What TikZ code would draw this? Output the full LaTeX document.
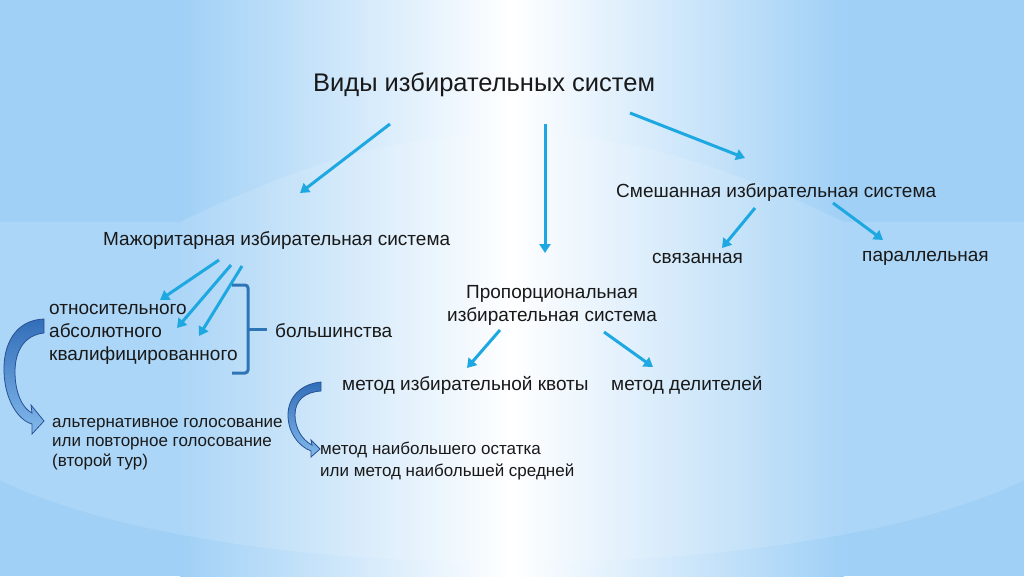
\documentclass[tikz,border=0pt]{standalone}
\usepackage{fontspec}
\setmainfont{Liberation Sans}
\usetikzlibrary{arrows.meta}
\definecolor{bgedge}{RGB}{160,208,246}
\definecolor{arr}{RGB}{30,168,225}
\definecolor{brc}{RGB}{46,117,182}
\definecolor{cvline}{RGB}{40,80,150}
\definecolor{cvtop}{RGB}{50,110,185}
\definecolor{cvbot}{RGB}{130,185,235}
\definecolor{txt}{RGB}{25,25,25}
\begin{document}
\begin{tikzpicture}[x=1pt,y=-1pt,
  lbl/.style={font=\fontsize{19}{22.8}\selectfont, text=txt, inner sep=0pt, anchor=base west},
  sml/.style={font=\fontsize{17}{19.5}\selectfont, text=txt, inner sep=0pt, anchor=base west},
  link/.style={draw=arr, line width=3pt, -{Triangle[length=9pt,width=11pt]}},
  bracestyle/.style={draw=brc, line width=3pt, rounded corners=3pt},
  curvearrow/.style={top color=cvtop, bottom color=cvbot, draw=cvline, line width=0.8pt}]
\useasboundingbox (0,0) rectangle (1024,576);
% background
\fill[bgedge] (0,0) rectangle (1024,576);
\shade[left color=bgedge, right color=white] (180,0) rectangle (512,576);
\shade[left color=white, right color=bgedge] (512,0) rectangle (844,576);
\fill[white, opacity=0.13] (0,222) -- (180,222) .. controls (330,150) and (420,134) .. (512,134)
  .. controls (604,134) and (694,150) .. (844,222) -- (1024,222) -- (1024,480)
  .. controls (800,590) and (224,590) .. (0,480) -- cycle;

% texts
\node[lbl, font=\fontsize{25.5}{30}\selectfont] (title) at (313,91) {Виды избирательных систем};
\node[lbl] (mix) at (616,197) {Смешанная избирательная система};
\node[lbl] (maj) at (103,245) {Мажоритарная избирательная система};
\node[lbl] (svyaz) at (652,263) {связанная};
\node[lbl] (paral) at (862,261) {параллельная};
\node[lbl, align=center, anchor=base] (prop) at (552,321) {Пропорциональная\\избирательная система};
\node[lbl, align=left] (kinds) at (49,360) {относительного\\абсолютного\\квалифицированного};
\node[lbl] (bolsh) at (275,337) {большинства};
\node[lbl] (kvota) at (342,390) {метод избирательной квоты};
\node[lbl] (delit) at (611,390) {метод делителей};
\node[sml, align=left] (alt) at (52,466) {альтернативное голосование\\или повторное голосование\\(второй тур)};
\node[sml, align=left, font=\fontsize{17}{22}\selectfont] (ost) at (320,476) {метод наибольшего остатка\\или метод наибольшей средней};

% arrow ends
\coordinate (t1) at (390,124); \coordinate (e1) at (300,193);
\coordinate (t2) at (545,124); \coordinate (e2) at (545,253);
\coordinate (t3) at (630,113); \coordinate (e3) at (745,158);
\coordinate (ms1) at (755,208); \coordinate (me1) at (722,248);
\coordinate (ms2) at (833,203); \coordinate (me2) at (883,240);
\coordinate (ps1) at (500,330); \coordinate (pe1) at (467,368);
\coordinate (ps2) at (604,332); \coordinate (pe2) at (653,367);
\coordinate (js1) at (219,260); \coordinate (je1) at (160,300);
\coordinate (js2) at (231,265); \coordinate (je2) at (177,328);
\coordinate (js3) at (242,266); \coordinate (je3) at (199,336);
\draw[link] (t1) -- (e1);
\draw[link] (t2) -- (e2);
\draw[link] (t3) -- (e3);
\draw[link] (ms1) -- (me1);
\draw[link] (ms2) -- (me2);
\draw[link] (ps1) -- (pe1);
\draw[link] (ps2) -- (pe2);
\draw[link] (js1) -- (je1);
\draw[link] (js2) -- (je2);
\draw[link] (js3) -- (je3);

% brace
\coordinate (btip) at (267,329);
\draw[bracestyle] (232,285) -- (248,285) -- (248,373) -- (232,373);
\draw[bracestyle] (248,329) -- (btip);

% curved block arrows
\shade[curvearrow] (44,319) .. controls (15,320) and (3,345) .. (4,372)
  .. controls (5,400) and (18,420) .. (32,424) -- (32,434) -- (44,421) -- (31,405) -- (32,413)
  .. controls (22,408) and (15,392) .. (15,372) .. controls (15,350) and (25,335) .. (44,333) -- cycle;
\shade[curvearrow] (321,382) .. controls (300,384) and (288,398) .. (288,415)
  .. controls (288,432) and (298,446) .. (311,451) -- (311,457) -- (320,449) -- (311,440) -- (312,445)
  .. controls (302,440) and (295,428) .. (295,415) .. controls (295,400) and (305,392) .. (321,391) -- cycle;
\end{tikzpicture}
\end{document}
